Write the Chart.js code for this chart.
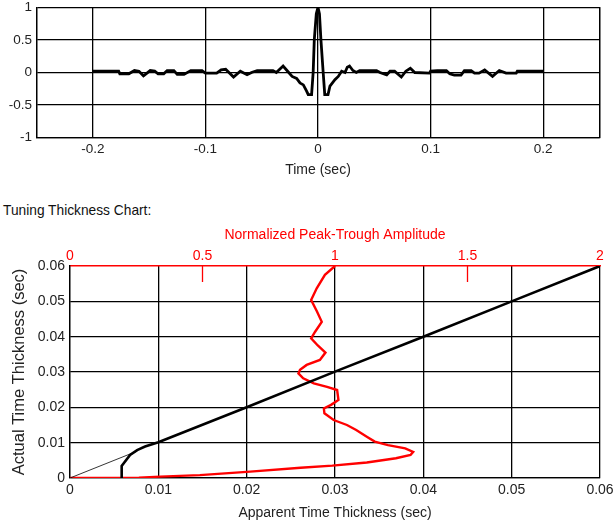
<!DOCTYPE html>
<html>
<head>
<meta charset="utf-8">
<script src="https://cdn.jsdelivr.net/npm/chart.js@4.4.1/dist/chart.umd.min.js"></script>
<style>
  body { margin: 0; background: #fff; width: 614px; height: 522px; overflow: hidden; }
  #wrap { position: relative; width: 614px; height: 522px; }
  #waveChart { position: absolute; left: 0; top: 0; }
  #tuningChart { position: absolute; left: 0; top: 195px; }
  #tuningTitle { position: absolute; left: 3px; top: 203px; font: 13.75px 'Liberation Sans', Arial, sans-serif; color: #111; }
</style>
</head>
<body>
<div id="wrap">
  <canvas id="waveChart" width="614" height="190"></canvas>
  <div id="tuningTitle">Tuning Thickness Chart:</div>
  <canvas id="tuningChart" width="614" height="327"></canvas>
</div>
<script>
// wavelet (top plot)
const waveTime = [-0.2, -0.177, -0.176, -0.168, -0.163, -0.159, -0.155, -0.149, -0.145, -0.142, -0.137, -0.134, -0.128,
  -0.125, -0.119, -0.113, -0.103, -0.1, -0.09, -0.086, -0.082, -0.075, -0.069, -0.063, -0.059, -0.054, -0.04, -0.037,
  -0.031, -0.026, -0.023, -0.019, -0.016, -0.013, -0.01, -0.0087, -0.0057, -0.0043, -0.0033, -0.0015, 0, 0.0013,
  0.0026, 0.0046, 0.006, 0.0089, 0.0106, 0.015, 0.018, 0.021, 0.024, 0.026, 0.028, 0.031, 0.034, 0.037, 0.052, 0.055,
  0.061, 0.064, 0.068, 0.074, 0.078, 0.082, 0.086, 0.099, 0.1, 0.106, 0.114, 0.117, 0.121, 0.127, 0.13, 0.136, 0.139,
  0.143, 0.148, 0.155, 0.161, 0.167, 0.176, 0.177, 0.2];
const waveAmp = [0.02, 0.02, -0.02, -0.02, 0.03, 0.02, -0.05, 0.03, 0.02, -0.02, -0.02, 0.03, 0.03,
  -0.03, -0.03, 0.03, 0.03, -0.01, -0.01, 0.04, 0.05, -0.07, 0.02, -0.035, 0, 0.03, 0.03, 0,
  0.1, 0, -0.06, -0.09, -0.16, -0.19, -0.29, -0.34, -0.34, 0, 0.5, 0.9, 1.0, 0.9,
  0.5, 0, -0.34, -0.34, -0.21, -0.11, -0.06, 0.02, 0, 0.08, 0.1, 0.03, 0, 0.03, 0.03, 0,
  -0.035, 0.02, 0.02, -0.07, 0.02, 0.065, 0, -0.01, 0.02, 0.03, 0.03, -0.02, -0.04, -0.04, 0.03, 0.03, -0.01,
  -0.01, 0.04, -0.06, 0.03, -0.01, -0.01, 0.02, 0.02];
const waveTimeTicks = [-0.25, -0.2, -0.1, 0, 0.1, 0.2, 0.25];
const waveAmpTicks = [-1, -0.5, 0, 0.5, 1];

// tuning chart (bottom plot)
const refApparent = [0, 0.0076];
const refActual = [0, 0.0076];
const apparentThickness = [0.00585, 0.00585, 0.0068, 0.0076, 0.0085, 0.01, 0.02, 0.03, 0.04, 0.05, 0.06];
const actualThickness = [0, 0.0034, 0.0065, 0.0079, 0.0089, 0.0101, 0.02, 0.0301, 0.04, 0.05, 0.06];
const peakTroughAmp = [0, 0.26, 0.34, 0.49, 0.68, 0.87, 0.99, 1.12, 1.23, 1.285, 1.295, 1.265, 1.2, 1.15, 1.12, 1.08,
  1.045, 0.995, 0.96, 0.958, 0.985, 1.013, 1.008, 0.97, 0.92, 0.88, 0.862, 0.868, 0.893, 0.943, 0.964, 0.935,
  0.91, 0.925, 0.95, 0.932, 0.91, 0.931, 0.962, 1.0];
const ampThickness = [0, 0.0001, 0.0004, 0.0008, 0.0018, 0.0029, 0.0035, 0.0044, 0.0056, 0.0065, 0.0074, 0.0084, 0.0093,
  0.0103, 0.0117, 0.0136, 0.015, 0.0164, 0.0183, 0.0197, 0.0207, 0.0221, 0.0249, 0.0258, 0.0268, 0.0282, 0.0296,
  0.0306, 0.032, 0.0334, 0.0355, 0.0375, 0.0395, 0.0414, 0.0442, 0.0471, 0.0504, 0.0537, 0.0575, 0.06];
const thicknessTicks = [0, 0.01, 0.02, 0.03, 0.04, 0.05, 0.06];
const ampTicks = [0, 0.5, 1, 1.5, 2];
const ampTickMarks = [0.5, 1.5];

const FONT = "'Liberation Sans', Arial, sans-serif";
const TEXT = '#222';

function toPoints(xs, ys) {
  return xs.map((x, i) => ({ x: x, y: ys[i] }));
}

function fixedTicks(values) {
  return scale => { scale.ticks = values.map(v => ({ value: v })); };
}

// force an axis to a fixed thickness and drop the label overhang padding
function fixSize(size) {
  return s => {
    if (s.isHorizontal()) s.height = size; else s.width = size;
    s.paddingTop = 0; s.paddingBottom = 0; s.paddingLeft = 0; s.paddingRight = 0;
  };
}

// top: wavelet
new Chart(document.getElementById('waveChart'), {
  type: 'scatter',
  data: {
    datasets: [{
      data: toPoints(waveTime, waveAmp),
      showLine: true,
      borderColor: '#000',
      borderWidth: 2.8,
      pointRadius: 0,
      tension: 0
    }]
  },
  options: {
    responsive: false,
    animation: false,
    layout: { padding: { top: 7.3, right: 14.5, left: 0, bottom: 0 } },
    plugins: { legend: { display: false }, tooltip: { enabled: false } },
    scales: {
      x: {
        type: 'linear', min: -0.25, max: 0.25,
        afterBuildTicks: fixedTicks(waveTimeTicks),
        afterFit: fixSize(52.3),
        ticks: {
          autoSkip: false, maxRotation: 0, padding: 3.7, color: TEXT,
          font: { family: FONT, size: 13.5 },
          callback: v => (Math.abs(v) === 0.25 ? ' ' : String(v))
        },
        grid: { color: '#000', lineWidth: 1.3, drawTicks: false },
        border: { color: '#000', width: 1.3 },
        title: { display: true, text: 'Time (sec)', color: TEXT, font: { family: FONT, size: 14 }, padding: { top: 0, bottom: 11.6 } }
      },
      y: {
        type: 'linear', min: -1, max: 1,
        afterBuildTicks: fixedTicks(waveAmpTicks),
        afterFit: fixSize(36.5),
        ticks: {
          autoSkip: false, padding: 4.5, color: TEXT,
          font: { family: FONT, size: 13.5 },
          callback: v => String(v)
        },
        grid: { color: '#000', lineWidth: 1.3, drawTicks: false },
        border: { color: '#000', width: 1.3 }
      },
      // right frame line only
      yRight: {
        type: 'linear', position: 'right', min: -1, max: 1,
        afterFit: fixSize(0),
        ticks: { display: false },
        grid: { display: false },
        border: { color: '#000', width: 1.3 }
      }
    }
  }
});

// short red tick marks pointing down from the top amplitude axis
const ampTickPlugin = {
  id: 'ampTickMarks',
  afterDraw(chart) {
    const sc = chart.scales.x2;
    const ctx = chart.ctx;
    ctx.save();
    ctx.strokeStyle = '#ff0000';
    ctx.lineWidth = 1.3;
    ampTickMarks.forEach(v => {
      const px = sc.getPixelForValue(v);
      ctx.beginPath();
      ctx.moveTo(px, chart.chartArea.top);
      ctx.lineTo(px, chart.chartArea.top + 16);
      ctx.stroke();
    });
    ctx.restore();
  }
};

// bottom: tuning thickness chart
new Chart(document.getElementById('tuningChart'), {
  type: 'scatter',
  data: {
    datasets: [
      {
        data: toPoints(apparentThickness, actualThickness),
        showLine: true, borderColor: '#000', borderWidth: 2.6, pointRadius: 0, tension: 0
      },
      {
        data: toPoints(refApparent, refActual),
        showLine: true, borderColor: '#000', borderWidth: 0.8, pointRadius: 0, tension: 0
      },
      {
        data: toPoints(peakTroughAmp, ampThickness),
        xAxisID: 'x2',
        showLine: true, borderColor: '#ff0000', borderWidth: 2.4, pointRadius: 0, tension: 0
      }
    ]
  },
  options: {
    responsive: false,
    animation: false,
    layout: { padding: { top: 0, right: 14, left: 0, bottom: 0 } },
    plugins: { legend: { display: false }, tooltip: { enabled: false } },
    scales: {
      x: {
        type: 'linear', position: 'bottom', min: 0, max: 0.06,
        afterBuildTicks: fixedTicks(thicknessTicks),
        afterFit: fixSize(44),
        ticks: {
          autoSkip: false, maxRotation: 0, padding: 4, color: TEXT,
          font: { family: FONT, size: 14 },
          callback: v => String(v)
        },
        grid: { color: '#000', lineWidth: 1.3, drawTicks: false },
        border: { color: '#000', width: 1.3 },
        title: { display: true, text: 'Apparent Time Thickness (sec)', color: TEXT, font: { family: FONT, size: 14 }, padding: { top: 0, bottom: 0.6 } }
      },
      x2: {
        type: 'linear', position: 'top', min: 0, max: 2,
        afterBuildTicks: fixedTicks(ampTicks),
        afterFit: fixSize(71),
        ticks: {
          autoSkip: false, maxRotation: 0, padding: 1, color: '#ff0000',
          font: { family: FONT, size: 14 },
          callback: v => String(v)
        },
        grid: { drawOnChartArea: false, drawTicks: false },
        border: { color: '#ff0000', width: 1.5 },
        title: { display: true, text: 'Normalized Peak-Trough Amplitude', color: '#ff0000', font: { family: FONT, size: 14 }, padding: { top: 31.6, bottom: 0 } }
      },
      y: {
        type: 'linear', min: 0, max: 0.06,
        afterBuildTicks: fixedTicks(thicknessTicks),
        afterFit: fixSize(70),
        ticks: {
          autoSkip: false, padding: 5, color: TEXT,
          font: { family: FONT, size: 14 },
          callback: v => String(v)
        },
        grid: {
          color: c => (c.tick && c.tick.value === 0.06 ? 'rgba(0,0,0,0)' : '#000'),
          lineWidth: 1.3, drawTicks: false
        },
        border: { color: '#000', width: 1.3 },
        title: { display: true, text: 'Actual Time Thickness (sec)', color: TEXT, font: { family: FONT, size: 16.5 }, padding: { top: 10, bottom: 0 } }
      }
    }
  },
  plugins: [ampTickPlugin]
});
</script>
</body>
</html>
